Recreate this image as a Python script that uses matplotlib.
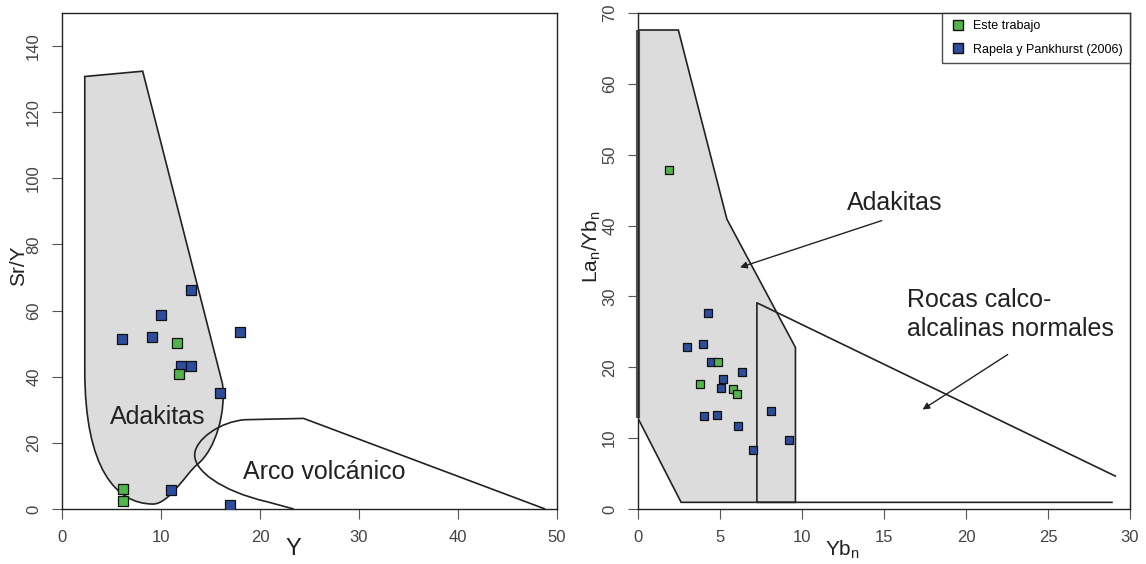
import matplotlib
matplotlib.use("Agg")
import matplotlib.pyplot as plt
from matplotlib.lines import Line2D
from matplotlib.path import Path
from matplotlib.patches import PathPatch

plt.rcParams['font.family'] = ['Liberation Sans', 'DejaVu Sans']
plt.rcParams['mathtext.fontset'] = 'custom'
plt.rcParams['mathtext.rm'] = 'Liberation Sans'
plt.rcParams['mathtext.it'] = 'Liberation Sans'

GREEN = '#52b44b'
BLUE = '#2e4c9c'
FIELD = '#dcdcdc'
INK = '#222222'

# ---- Sr/Y vs Y ----
y_green = [11.6, 11.8, 6.2, 6.2]
sry_green = [50.2, 40.9, 6.0, 2.5]
y_blue = [6.1, 9.1, 10.0, 13.0, 18.0, 12.0, 13.0, 16.0, 11.0, 17.0]
sry_blue = [51.3, 51.9, 58.8, 66.2, 53.5, 43.2, 43.3, 35.2, 5.8, 1.1]

# Adakite field outline (Y, Sr/Y): vertices with Bezier control points
adak1_verts = [(2.3, 130.8), (8.15, 132.4), (16.2, 38.0),
               (16.6, 30.0), (15.6, 18.0), (13.6, 13.3),
               (12.6, 10.9), (10.8, 1.5), (9.2, 1.5),
               (5.5, 1.5), (2.3, 12.0), (2.3, 42.0),
               (2.3, 130.8)]
adak1_codes = [Path.MOVETO, Path.LINETO, Path.LINETO,
               Path.CURVE4, Path.CURVE4, Path.CURVE4,
               Path.CURVE4, Path.CURVE4, Path.CURVE4,
               Path.CURVE4, Path.CURVE4, Path.CURVE4,
               Path.CLOSEPOLY]

# Volcanic arc field outline (Y, Sr/Y)
arc_verts = [(48.8, 0.0), (24.4, 27.4), (18.5, 27.0),
             (16.0, 26.5), (13.4, 21.0), (13.4, 16.3),
             (13.4, 11.6), (16.0, 5.5), (20.7, 2.2),
             (23.4, 0.0)]
arc_codes = [Path.MOVETO, Path.LINETO, Path.LINETO,
             Path.CURVE4, Path.CURVE4, Path.CURVE4,
             Path.CURVE4, Path.CURVE4, Path.CURVE4,
             Path.LINETO]

# ---- La_n/Yb_n vs Yb_n ----
ybn_green = [1.89, 3.80, 4.86, 5.81, 6.06]
layb_green = [47.8, 17.6, 20.8, 16.9, 16.3]
ybn_blue = [3.01, 3.94, 4.29, 4.45, 5.18, 5.04, 6.36, 4.04, 4.80, 6.08, 7.01,
            8.09, 9.19]
layb_blue = [22.8, 23.3, 27.6, 20.8, 18.4, 17.1, 19.4, 13.1, 13.3, 11.7, 8.35,
             13.9, 9.67]

adak2_x = [0.0, 2.46, 5.42, 9.6, 9.6, 2.63, 0.0, 0.0]
adak2_y = [67.6, 67.6, 40.9, 22.8, 0.94, 0.94, 12.8, 67.6]

calc_x = [29.1, 7.25, 7.25, 28.9]
calc_y = [4.65, 29.1, 0.94, 0.94]

TICK_COLOR = '#444444'


def style_axes(ax):
    for s in ax.spines.values():
        s.set_linewidth(1.0)
        s.set_color(INK)
    ax.tick_params(direction='out', length=7, width=0.8, color='#555555',
                   labelcolor=TICK_COLOR, labelsize=12, pad=8)
    for lab in ax.get_yticklabels():
        lab.set_rotation(90)
        lab.set_va('center')


fig = plt.figure(figsize=(11.46, 5.64), dpi=100)
ax1 = fig.add_axes([62 / 1146, 1 - 509 / 564, 495 / 1146, 496 / 564])
ax2 = fig.add_axes([638 / 1146, 1 - 509 / 564, 492 / 1146, 496 / 564])

# Left panel
ax1.add_patch(PathPatch(Path(adak1_verts, adak1_codes), facecolor=FIELD,
                        edgecolor=INK, lw=1.2, zorder=1))
ax1.add_patch(PathPatch(Path(arc_verts, arc_codes), facecolor='none',
                        edgecolor=INK, lw=1.2, zorder=2))
ax1.scatter(y_blue, sry_blue, marker='s', s=42, c=BLUE, edgecolors='#111111',
            linewidths=0.9, zorder=3)
ax1.scatter(y_green, sry_green, marker='s', s=42, c=GREEN, edgecolors='#111111',
            linewidths=0.9, zorder=3)
ax1.text(9.65, 27.8, 'Adakitas', fontsize=18, ha='center', va='center',
         color=INK)
ax1.text(26.5, 11.2, 'Arco volcánico', fontsize=18, ha='center', va='center',
         color=INK)
ax1.set_xlim(0, 50)
ax1.set_ylim(0, 150)
ax1.set_xticks([0, 10, 20, 30, 40, 50])
ax1.set_yticks([0, 20, 40, 60, 80, 100, 120, 140])
ax1.set_xlabel('Y', fontsize=17, color=INK)
ax1.xaxis.set_label_coords(0.467, -0.058)
ax1.set_ylabel('Sr/Y', fontsize=15, color=INK)
ax1.yaxis.set_label_coords(-0.068, 0.49)
style_axes(ax1)

# Right panel
ax2.fill(adak2_x, adak2_y, facecolor=FIELD, edgecolor=INK, lw=1.2, zorder=1)
ax2.plot([0.0, 0.0], [67.6, 12.8], color='#555555', lw=3.0,
         zorder=1.5, clip_on=False, solid_capstyle='butt')
ax2.plot(calc_x, calc_y, color=INK, lw=1.2, zorder=2)
ax2.scatter(ybn_blue, layb_blue, marker='s', s=32, c=BLUE, edgecolors='#111111',
            linewidths=0.9, zorder=3)
ax2.scatter(ybn_green, layb_green, marker='s', s=32, c=GREEN, edgecolors='#111111',
            linewidths=0.9, zorder=3)
ax2.text(15.64, 43.2, 'Adakitas', fontsize=18, ha='center', va='center',
         color=INK)
ax2.annotate('', xy=(6.22, 34.1), xytext=(14.86, 40.7),
             arrowprops=dict(arrowstyle='-|>', lw=1.0, color=INK,
                             mutation_scale=10, shrinkA=0, shrinkB=0))
ax2.text(16.38, 27.5, 'Rocas calco-\nalcalinas normales', fontsize=18,
         ha='left', va='center', color=INK, linespacing=1.25)
ax2.annotate('', xy=(17.35, 14.04), xytext=(22.54, 21.8),
             arrowprops=dict(arrowstyle='-|>', lw=1.0, color=INK,
                             mutation_scale=10, shrinkA=0, shrinkB=0))
ax2.set_xlim(0, 30)
ax2.set_ylim(0, 70)
ax2.set_xticks([0, 5, 10, 15, 20, 25, 30])
ax2.set_yticks([0, 10, 20, 30, 40, 50, 60, 70])
ax2.set_xlabel(r'$\mathregular{Yb_n}$', fontsize=15, color=INK)
ax2.xaxis.set_label_coords(0.415, -0.06)
ax2.set_ylabel(r'$\mathregular{La_n/Yb_n}$', fontsize=15, color=INK)
ax2.yaxis.set_label_coords(-0.072, 0.53)
style_axes(ax2)

handles = [
    Line2D([], [], marker='s', ls='none', markersize=7, markerfacecolor=GREEN,
           markeredgecolor='#111111', label='Este trabajo'),
    Line2D([], [], marker='s', ls='none', markersize=7, markerfacecolor=BLUE,
           markeredgecolor='#111111', label='Rapela y Pankhurst (2006)'),
]
leg = ax2.legend(handles=handles, loc='upper right', fontsize=9,
                 frameon=True, fancybox=False, borderaxespad=0,
                 handletextpad=0.5, handlelength=1.4, borderpad=0.6,
                 labelspacing=0.9)
leg.get_frame().set_edgecolor(INK)
leg.get_frame().set_linewidth(1.0)

fig.savefig('out.png', dpi=100)
